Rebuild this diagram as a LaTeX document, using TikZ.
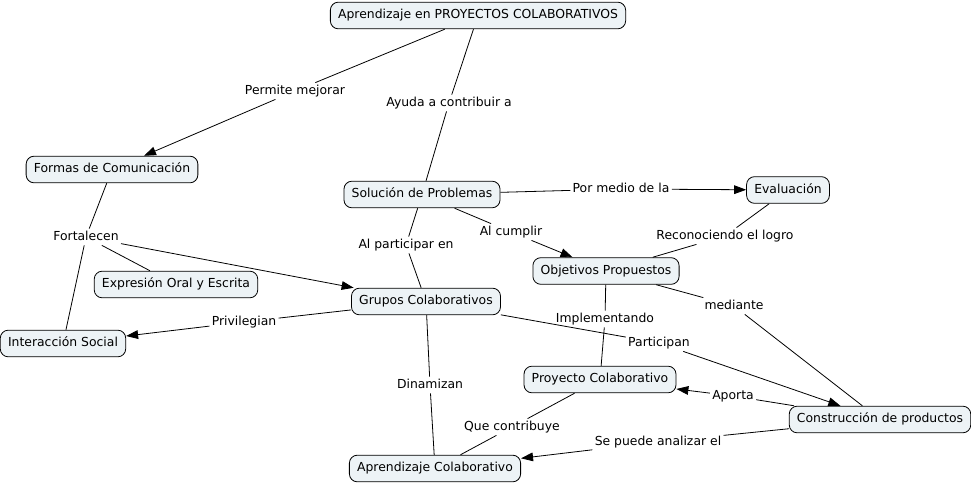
\documentclass[tikz,border=0pt]{standalone}
\usepackage{fontspec}
\setmainfont{DejaVu Sans}
\usepackage{xcolor}
\usetikzlibrary{arrows.meta}

\definecolor{cajafondo}{HTML}{EDF3F6}

\tikzset{
	concepto/.style={draw, rounded corners=6pt, fill=cajafondo, inner xsep=5.8pt, inner ysep=5.5pt,
		text height=7pt, text depth=2pt, font=\fontsize{9.3}{11}\selectfont},
	enlace/.style={inner sep=1.5pt, text height=7pt, text depth=2pt, font=\fontsize{9.3}{11}\selectfont},
	flecha/.style={-{Triangle[length=9pt,width=6.5pt]}},
}

\begin{document}
\begin{tikzpicture}[x=0.75pt,y=-0.75pt,line width=0.6pt]
		\useasboundingbox (0,0) rectangle (971,485);
		% conceptos
		\node[concepto] (proy) at (478,15.5) {Aprendizaje en PROYECTOS COLABORATIVOS};
		\node[concepto] (formas) at (112,169.5) {Formas de Comunicación};
		\node[concepto] (sol) at (422,194.5) {Solución de Problemas};
		\node[concepto] (eval) at (788,190) {Evaluación};
		\node[concepto] (obj) at (606,271) {Objetivos Propuestos};
		\node[concepto] (expr) at (176,284.5) {Expresión Oral y Escrita};
		\node[concepto] (grupos) at (426,301.5) {Grupos Colaborativos};
		\node[concepto] (inter) at (63,343.5) {Interacción Social};
		\node[concepto] (pcol) at (600,379.5) {Proyecto Colaborativo};
		\node[concepto] (constr) at (880,419.5) {Construcción de productos};
		\node[concepto] (acol) at (435,468.5) {Aprendizaje Colaborativo};
		% frases de enlace
		\node[enlace] (permite) at (295,91) {Permite mejorar};
		\node[enlace] (ayuda) at (449,103) {Ayuda a contribuir a};
		\node[enlace] (fortal) at (86,237) {Fortalecen};
		\node[enlace] (pormedio) at (621,189) {Por medio de la};
		\node[enlace] (cumplir) at (511,232) {Al cumplir};
		\node[enlace] (particip) at (406,245) {Al participar en};
		\node[enlace] (reconoc) at (725,236) {Reconociendo el logro};
		\node[enlace] (mediante) at (734,306) {mediante};
		\node[enlace] (privil) at (244,322) {Privilegian};
		\node[enlace] (implem) at (605,319) {Implementando};
		\node[enlace] (partic) at (659,343) {Participan};
		\node[enlace] (dinam) at (430,385) {Dinamizan};
		\node[enlace] (aporta) at (733,396) {Aporta};
		\node[enlace] (quecont) at (512,427) {Que contribuye};
		\node[enlace] (analiz) at (658,442) {Se puede analizar el};
		% conexiones
		\draw (proy) -- (permite);
		\draw[flecha] (permite) -- (formas);
		\draw (proy) -- (ayuda);
		\draw (ayuda) -- (sol);
		\draw (formas) -- (fortal);
		\draw (fortal) -- (inter);
		\draw (fortal) -- (expr);
		\draw[flecha] (fortal) -- (grupos);
		\draw (sol) -- (pormedio);
		\draw[flecha] (pormedio) -- (eval);
		\draw (sol) -- (cumplir);
		\draw[flecha] (cumplir) -- (obj);
		\draw (sol) -- (particip);
		\draw (particip) -- (grupos);
		\draw (eval) -- (reconoc);
		\draw (reconoc) -- (obj);
		\draw (obj) -- (mediante);
		\draw (mediante) -- (constr);
		\draw (obj) -- (implem);
		\draw (implem) -- (pcol);
		\draw (grupos) -- (privil);
		\draw[flecha] (privil) -- (inter);
		\draw (grupos) -- (partic);
		\draw[flecha] (partic) -- (constr);
		\draw (grupos) -- (dinam);
		\draw (dinam) -- (acol);
		\draw (constr) -- (aporta);
		\draw[flecha] (aporta) -- (pcol);
		\draw (pcol) -- (quecont);
		\draw (quecont) -- (acol);
		\draw (constr) -- (analiz);
		\draw[flecha] (analiz) -- (acol);
	\end{tikzpicture}
\end{document}
